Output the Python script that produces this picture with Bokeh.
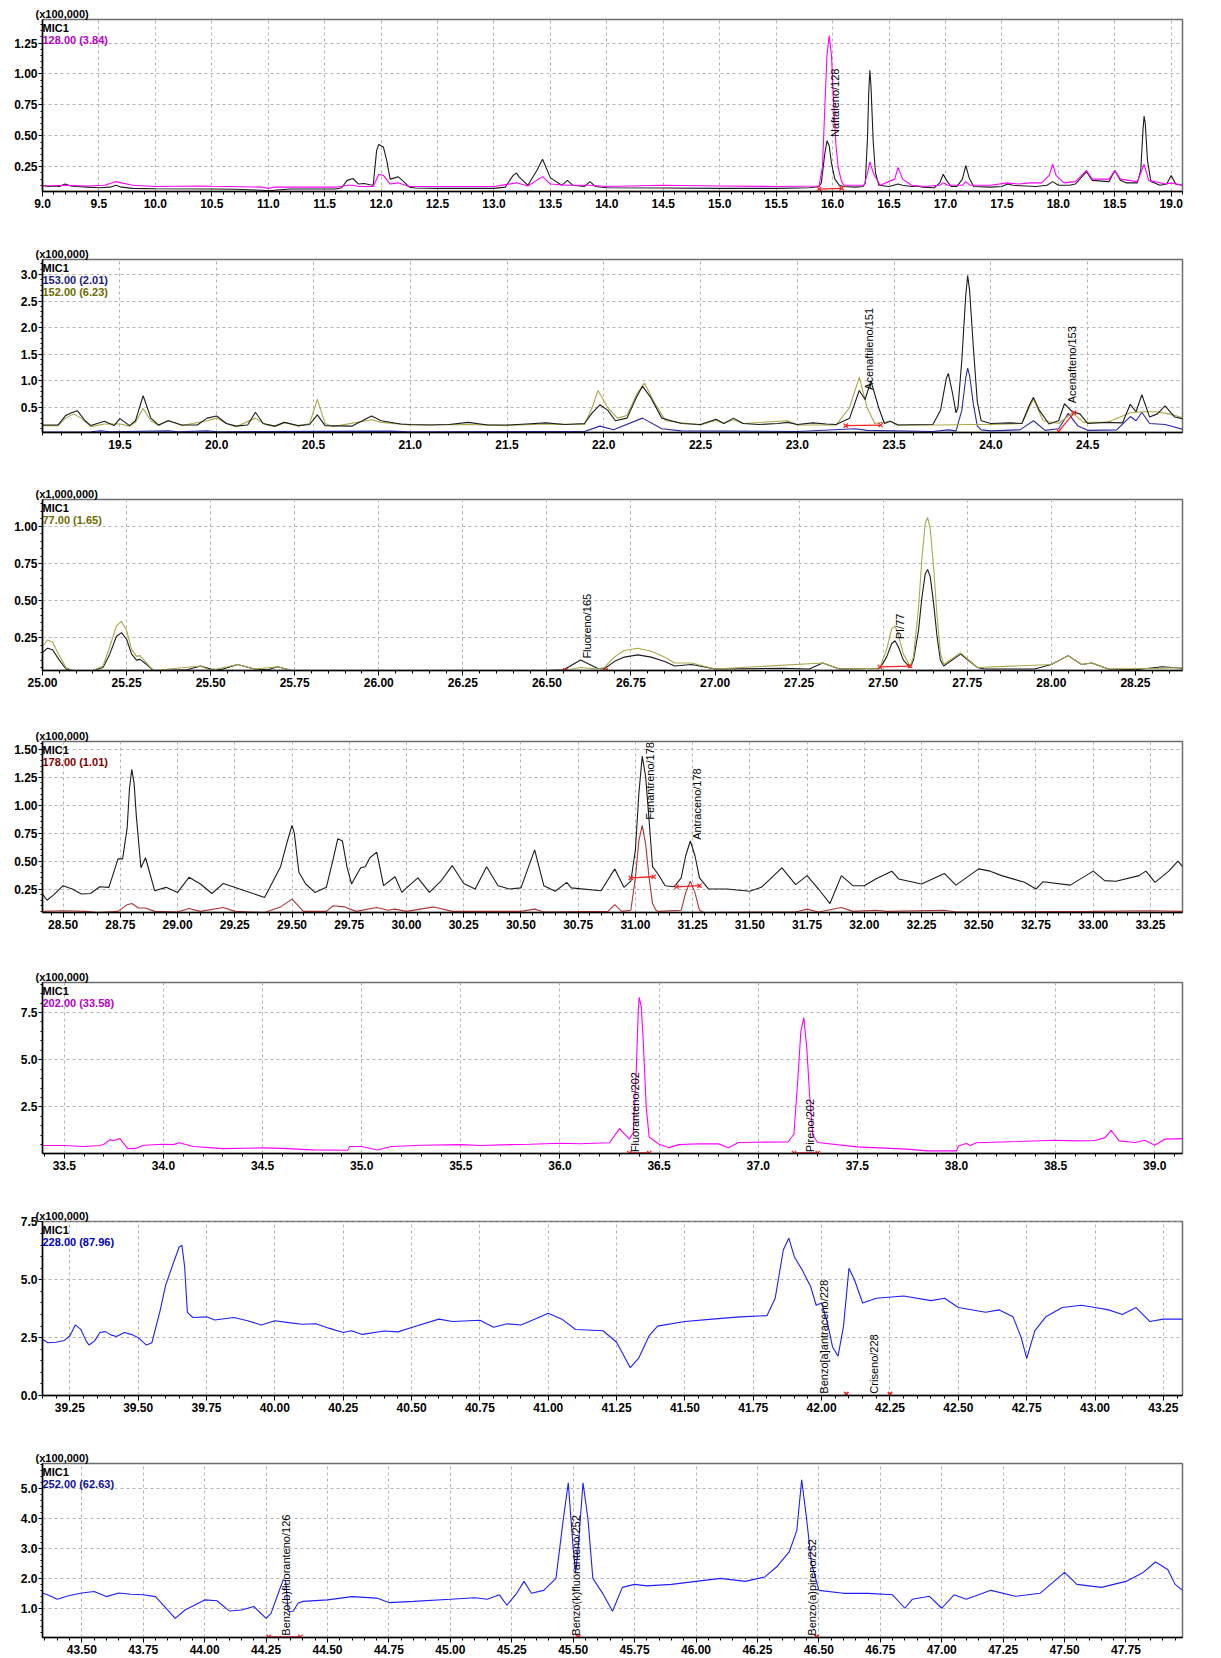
import math
from bokeh.plotting import figure
from bokeh.layouts import column
from bokeh.models import Range1d, SingleIntervalTicker, PrintfTickFormatter, Label, Title
from bokeh.core.properties import value
from bokeh.embed import file_html
from bokeh.resources import INLINE

FONT = "Liberation Sans"

# ---------------- Panel 1 (x100,000) ----------------
p1_tic_t = [9.0,9.05,9.1,9.15,9.2,9.25,9.3,9.4,9.5,9.6,9.65,9.7,9.8,10.0,10.5,10.7,10.95,11.0,11.05,11.2,11.6,11.65,11.7,11.75,11.8,11.85,11.9,11.93,11.96,11.98,12.02,12.05,12.08,12.12,12.15,12.2,12.25,12.3,12.5,13.0,13.1,13.17,13.2,13.22,13.3,13.38,13.43,13.5,13.6,13.65,13.7,13.8,13.85,13.9,14.0,14.5,15.0,15.5,15.8,15.88,15.9,15.93,15.95,15.97,15.99,16.02,16.06,16.1,16.2,16.27,16.29,16.31,16.32,16.33,16.34,16.36,16.38,16.41,16.5,16.58,16.62,16.7,16.75,16.8,16.9,16.95,16.98,17.01,17.05,17.1,17.15,17.18,17.21,17.25,17.4,17.5,17.55,17.6,17.8,17.9,17.95,18.0,18.1,18.15,18.2,18.25,18.3,18.45,18.5,18.55,18.6,18.7,18.73,18.75,18.76,18.77,18.79,18.82,18.9,18.96,19.0,19.04,19.1]
p1_tic_i = [0.10,0.09,0.095,0.09,0.11,0.095,0.09,0.085,0.08,0.085,0.10,0.085,0.075,0.072,0.07,0.068,0.06,0.055,0.06,0.07,0.07,0.08,0.14,0.155,0.11,0.115,0.105,0.10,0.38,0.43,0.41,0.30,0.15,0.16,0.17,0.13,0.085,0.078,0.075,0.075,0.085,0.18,0.20,0.17,0.10,0.22,0.31,0.16,0.10,0.14,0.10,0.09,0.13,0.09,0.08,0.078,0.075,0.075,0.08,0.09,0.12,0.35,0.46,0.42,0.28,0.15,0.10,0.09,0.085,0.09,0.12,0.50,0.85,1.03,0.90,0.45,0.20,0.10,0.09,0.11,0.10,0.09,0.095,0.085,0.08,0.12,0.19,0.14,0.09,0.09,0.15,0.26,0.16,0.09,0.085,0.09,0.11,0.10,0.09,0.10,0.13,0.10,0.10,0.11,0.16,0.21,0.14,0.13,0.22,0.14,0.12,0.12,0.22,0.55,0.66,0.60,0.30,0.13,0.10,0.11,0.18,0.11,0.10]
p1_m128_t = [9.0,9.2,9.4,9.55,9.62,9.65,9.7,9.8,10.0,10.4,10.5,10.95,11.0,11.05,11.6,11.7,11.75,11.8,11.93,11.98,12.02,12.08,12.15,12.25,13.0,13.2,13.3,13.43,13.5,13.65,13.85,14.0,14.5,15.0,15.5,15.88,15.91,15.93,15.95,15.97,15.99,16.01,16.03,16.05,16.08,16.1,16.28,16.31,16.33,16.36,16.42,16.55,16.58,16.62,16.7,16.8,16.95,16.98,17.02,17.15,17.18,17.22,17.4,17.55,17.65,17.75,17.85,17.92,17.95,17.98,18.05,18.15,18.25,18.3,18.45,18.5,18.55,18.7,18.76,18.8,18.95,19.0,19.1]
p1_m128_i = [0.095,0.10,0.095,0.10,0.12,0.13,0.12,0.10,0.09,0.095,0.092,0.085,0.075,0.085,0.085,0.10,0.10,0.09,0.09,0.19,0.18,0.11,0.12,0.09,0.09,0.12,0.095,0.17,0.11,0.10,0.10,0.09,0.10,0.095,0.09,0.095,0.25,0.70,1.15,1.31,1.15,0.75,0.42,0.24,0.13,0.10,0.10,0.20,0.29,0.20,0.10,0.15,0.245,0.15,0.10,0.09,0.10,0.12,0.10,0.10,0.13,0.10,0.10,0.12,0.11,0.12,0.12,0.18,0.27,0.18,0.12,0.13,0.22,0.15,0.15,0.22,0.15,0.13,0.27,0.14,0.11,0.12,0.10]

# ---------------- Panel 2 (x100,000) ----------------
p2_tic_t = [19.1,19.18,19.22,19.25,19.28,19.32,19.35,19.42,19.47,19.5,19.55,19.58,19.62,19.66,19.7,19.75,19.82,19.9,19.95,20.0,20.05,20.1,20.16,20.2,20.24,20.3,20.35,20.42,20.48,20.52,20.56,20.7,20.8,20.85,20.95,21.0,21.1,21.2,21.3,21.4,21.5,21.6,21.7,21.8,21.9,21.94,21.98,22.02,22.06,22.12,22.17,22.2,22.24,22.3,22.4,22.5,22.58,22.62,22.67,22.72,22.8,22.9,22.95,23.0,23.08,23.15,23.2,23.27,23.32,23.35,23.38,23.42,23.45,23.48,23.52,23.7,23.74,23.77,23.78,23.8,23.82,23.83,23.85,23.87,23.88,23.89,23.91,23.93,23.95,24.0,24.1,24.16,24.2,24.22,24.25,24.3,24.35,24.38,24.42,24.46,24.5,24.6,24.68,24.72,24.75,24.78,24.82,24.86,24.9,24.95,25.0]
p2_tic_i = [0.17,0.17,0.35,0.40,0.44,0.25,0.16,0.24,0.16,0.29,0.16,0.25,0.72,0.30,0.17,0.25,0.17,0.17,0.30,0.34,0.20,0.15,0.17,0.41,0.20,0.15,0.22,0.16,0.18,0.36,0.16,0.15,0.34,0.25,0.19,0.18,0.17,0.18,0.22,0.17,0.17,0.19,0.21,0.18,0.20,0.40,0.55,0.45,0.25,0.30,0.70,0.90,0.70,0.30,0.20,0.18,0.28,0.20,0.30,0.20,0.18,0.20,0.22,0.18,0.21,0.19,0.18,0.30,0.82,0.65,1.00,0.50,0.20,0.24,0.17,0.18,0.45,1.05,1.14,0.80,0.40,0.50,1.40,2.60,2.98,2.70,1.60,0.60,0.25,0.20,0.21,0.20,0.55,0.69,0.45,0.19,0.25,0.57,0.42,0.38,0.20,0.22,0.21,0.56,0.42,0.74,0.32,0.38,0.53,0.32,0.28]
p2_m152_t = [19.1,19.18,19.22,19.26,19.3,19.35,19.42,19.5,19.55,19.58,19.62,19.66,19.7,19.75,19.82,19.95,20.0,20.05,20.1,20.2,20.25,20.3,20.35,20.42,20.48,20.52,20.56,20.6,20.8,20.85,21.0,21.3,21.5,21.7,21.9,21.94,21.97,22.02,22.07,22.12,22.17,22.21,22.26,22.32,22.5,22.58,22.62,22.67,22.72,22.95,23.0,23.2,23.27,23.32,23.36,23.4,23.48,23.52,23.75,23.88,24.0,24.16,24.22,24.27,24.35,24.42,24.48,24.6,24.72,24.78,24.85,24.92,25.0]
p2_m152_i = [0.16,0.16,0.30,0.38,0.30,0.14,0.19,0.19,0.15,0.22,0.48,0.25,0.16,0.26,0.16,0.25,0.30,0.20,0.14,0.30,0.18,0.14,0.22,0.15,0.20,0.65,0.20,0.14,0.27,0.22,0.17,0.18,0.16,0.19,0.18,0.50,0.82,0.50,0.30,0.35,0.75,0.96,0.60,0.25,0.17,0.26,0.20,0.27,0.20,0.25,0.17,0.17,0.50,1.07,0.50,0.20,0.24,0.17,0.17,0.18,0.18,0.20,0.66,0.25,0.20,0.40,0.22,0.22,0.40,0.42,0.42,0.38,0.30]
p2_m153_t = [19.1,19.35,19.4,19.45,19.75,19.8,19.95,20.0,20.9,21.0,21.9,21.98,22.05,22.2,22.3,22.4,23.0,23.3,23.36,23.7,23.78,23.82,23.85,23.87,23.88,23.89,23.91,23.93,23.95,24.0,24.15,24.22,24.28,24.35,24.4,24.45,24.5,24.65,24.72,24.75,24.78,24.82,24.9,25.0]
p2_m153_i = [0.04,0.045,0.06,0.045,0.06,0.045,0.06,0.045,0.055,0.045,0.05,0.15,0.08,0.30,0.10,0.06,0.05,0.10,0.07,0.05,0.08,0.06,0.45,1.05,1.24,1.10,0.55,0.15,0.08,0.06,0.08,0.25,0.07,0.10,0.39,0.15,0.07,0.08,0.33,0.25,0.41,0.20,0.18,0.08]

# ---------------- Panel 3 (x1,000,000) ----------------
p3_tic_t = [25.0,25.015,25.03,25.05,25.07,25.09,25.15,25.18,25.2,25.22,25.235,25.25,25.265,25.28,25.29,25.31,25.33,25.43,25.47,25.5,25.53,25.58,25.63,25.67,25.7,25.74,26.5,26.55,26.6,26.65,26.67,26.7,26.73,26.77,26.81,26.85,26.88,26.93,27.0,27.2,27.28,27.32,27.37,27.49,27.51,27.525,27.535,27.545,27.56,27.58,27.59,27.605,27.615,27.625,27.632,27.64,27.65,27.66,27.67,27.68,27.73,27.78,27.8,27.95,28.0,28.05,28.09,28.12,28.17,28.25,28.33,28.39]
p3_tic_i = [0.15,0.18,0.17,0.10,0.04,0.03,0.03,0.05,0.14,0.26,0.285,0.24,0.14,0.10,0.105,0.07,0.03,0.035,0.06,0.04,0.035,0.07,0.04,0.035,0.055,0.03,0.03,0.035,0.10,0.045,0.04,0.09,0.12,0.135,0.12,0.09,0.06,0.07,0.04,0.045,0.04,0.08,0.04,0.045,0.12,0.21,0.23,0.19,0.10,0.05,0.10,0.30,0.52,0.68,0.71,0.66,0.48,0.26,0.10,0.06,0.14,0.05,0.04,0.04,0.07,0.13,0.07,0.08,0.04,0.035,0.055,0.045]
p3_m77_t = [25.0,25.015,25.03,25.05,25.07,25.09,25.15,25.18,25.2,25.22,25.235,25.25,25.265,25.28,25.29,25.31,25.33,25.47,25.5,25.58,25.63,25.7,25.74,26.55,26.6,26.65,26.67,26.7,26.73,26.77,26.81,26.85,26.88,26.93,27.0,27.32,27.37,27.49,27.51,27.525,27.535,27.545,27.56,27.58,27.59,27.605,27.615,27.625,27.632,27.64,27.65,27.66,27.67,27.68,27.73,27.78,28.0,28.05,28.09,28.12,28.17,28.33,28.39]
p3_m77_i = [0.19,0.235,0.22,0.13,0.05,0.03,0.03,0.06,0.19,0.33,0.36,0.30,0.17,0.125,0.13,0.08,0.03,0.06,0.03,0.07,0.04,0.055,0.03,0.03,0.05,0.04,0.05,0.12,0.165,0.18,0.16,0.12,0.08,0.08,0.04,0.08,0.04,0.045,0.17,0.31,0.33,0.27,0.14,0.06,0.12,0.45,0.78,1.02,1.06,0.98,0.72,0.40,0.15,0.07,0.15,0.05,0.07,0.13,0.07,0.08,0.04,0.045,0.05]

# ---------------- Panel 4 (x100,000) ----------------
p4_tic_t = [28.41,28.43,28.46,28.5,28.54,28.58,28.62,28.66,28.7,28.74,28.76,28.78,28.79,28.8,28.81,28.82,28.84,28.86,28.9,28.95,29.0,29.05,29.1,29.15,29.2,29.3,29.38,29.45,29.48,29.5,29.51,29.53,29.56,29.6,29.65,29.68,29.7,29.72,29.74,29.76,29.8,29.82,29.84,29.87,29.9,29.95,29.98,30.0,30.05,30.1,30.15,30.2,30.25,30.3,30.35,30.4,30.45,30.5,30.56,30.6,30.65,30.7,30.72,30.85,30.91,30.95,30.98,31.0,31.015,31.03,31.045,31.06,31.075,31.1,31.13,31.17,31.2,31.22,31.24,31.26,31.28,31.32,31.4,31.5,31.55,31.64,31.7,31.75,31.8,31.85,31.9,31.95,32.0,32.05,32.12,32.15,32.25,32.35,32.4,32.5,32.55,32.6,32.7,32.75,32.78,32.9,33.0,33.05,33.1,33.2,33.23,33.27,33.33,33.37,33.39]
p4_tic_i = [0.205,0.15,0.20,0.28,0.25,0.205,0.21,0.27,0.265,0.52,0.52,0.80,1.15,1.32,1.20,0.90,0.44,0.53,0.235,0.265,0.22,0.355,0.295,0.21,0.30,0.23,0.175,0.45,0.68,0.82,0.75,0.40,0.295,0.22,0.265,0.52,0.70,0.68,0.45,0.295,0.44,0.45,0.53,0.58,0.28,0.36,0.22,0.26,0.35,0.22,0.32,0.46,0.30,0.25,0.45,0.28,0.25,0.26,0.60,0.28,0.23,0.31,0.26,0.235,0.43,0.265,0.32,0.60,1.10,1.44,1.25,0.86,0.45,0.38,0.28,0.27,0.35,0.55,0.68,0.55,0.35,0.25,0.25,0.23,0.265,0.44,0.29,0.37,0.25,0.12,0.37,0.28,0.28,0.34,0.41,0.34,0.295,0.39,0.285,0.43,0.41,0.37,0.31,0.25,0.315,0.285,0.41,0.325,0.32,0.37,0.41,0.31,0.41,0.50,0.45]
p4_m178_t = [28.41,28.5,28.6,28.65,28.74,28.78,28.8,28.83,28.86,28.9,29.0,29.05,29.1,29.2,29.25,29.38,29.45,29.5,29.55,29.65,29.68,29.73,29.78,29.87,29.92,29.95,30.0,30.12,30.2,30.5,30.56,30.6,30.88,30.91,30.94,30.98,31.0,31.015,31.03,31.045,31.06,31.075,31.09,31.1,31.2,31.22,31.24,31.26,31.28,31.3,31.7,31.75,31.8,31.9,31.95,32.05,32.1,32.35,32.4,33.0,33.25,33.39]
p4_m178_i = [0.05,0.055,0.05,0.04,0.05,0.11,0.12,0.08,0.08,0.05,0.045,0.075,0.05,0.085,0.05,0.04,0.09,0.16,0.05,0.05,0.10,0.09,0.05,0.085,0.06,0.07,0.05,0.09,0.05,0.05,0.07,0.045,0.05,0.11,0.05,0.06,0.35,0.68,0.82,0.65,0.35,0.12,0.06,0.05,0.06,0.22,0.32,0.22,0.06,0.04,0.045,0.07,0.045,0.085,0.05,0.06,0.05,0.06,0.045,0.05,0.055,0.05]

# ---------------- Panel 5 (x100,000) ----------------
p5_m202_t = [33.39,33.5,33.6,33.68,33.7,33.73,33.75,33.78,33.82,33.86,33.9,34.0,34.05,34.08,34.15,34.3,34.5,34.6,34.75,34.93,34.94,35.0,35.08,35.15,35.3,35.5,35.6,35.75,35.85,36.0,36.1,36.25,36.3,36.35,36.37,36.385,36.395,36.4,36.41,36.42,36.435,36.45,36.5,36.55,36.6,36.7,36.8,36.85,36.9,37.0,37.15,37.18,37.2,37.215,37.23,37.245,37.26,37.275,37.3,37.5,37.75,37.85,38.0,38.01,38.05,38.07,38.1,38.5,38.6,38.7,38.75,38.78,38.82,38.9,38.95,39.0,39.05,39.14]
p5_m202_i = [0.45,0.45,0.40,0.45,0.52,0.75,0.72,0.82,0.29,0.30,0.47,0.52,0.50,0.60,0.40,0.29,0.33,0.30,0.22,0.20,0.40,0.40,0.22,0.40,0.47,0.50,0.45,0.50,0.52,0.57,0.55,0.60,1.35,0.79,1.14,4.5,7.6,8.3,7.8,6.0,2.5,0.9,0.52,0.34,0.50,0.55,0.54,0.34,0.61,0.63,0.64,1.05,4.0,6.5,7.23,5.6,3.0,1.0,0.61,0.38,0.26,0.17,0.17,0.43,0.56,0.45,0.60,0.73,0.70,0.72,0.87,1.26,0.70,0.61,0.73,0.47,0.79,0.82]

# ---------------- Panel 6 (x100,000) ----------------
p6_m228_t = [39.15,39.17,39.2,39.23,39.25,39.27,39.29,39.31,39.32,39.34,39.36,39.38,39.4,39.42,39.45,39.48,39.5,39.53,39.55,39.58,39.6,39.63,39.65,39.66,39.67,39.68,39.7,39.75,39.78,39.85,39.9,39.95,40.0,40.05,40.1,40.15,40.2,40.25,40.28,40.32,40.4,40.45,40.5,40.6,40.65,40.75,40.8,40.85,40.9,40.95,41.0,41.05,41.1,41.2,41.25,41.3,41.33,41.37,41.4,41.5,41.6,41.7,41.8,41.83,41.86,41.88,41.9,41.93,41.96,41.98,42.0,42.02,42.04,42.06,42.08,42.1,42.12,42.15,42.2,42.3,42.4,42.45,42.5,42.6,42.65,42.7,42.73,42.75,42.78,42.82,42.88,42.95,43.0,43.05,43.1,43.15,43.2,43.25,43.32]
p6_m228_i = [2.43,2.28,2.30,2.38,2.57,3.05,2.86,2.35,2.18,2.35,2.72,2.76,2.62,2.55,2.72,2.62,2.50,2.18,2.28,3.66,4.75,5.77,6.42,6.50,5.55,3.59,3.37,3.40,3.26,3.37,3.23,3.05,3.23,3.15,3.08,3.10,2.90,2.72,2.80,2.64,2.79,2.75,2.94,3.30,3.20,3.25,2.95,3.10,3.05,3.30,3.55,3.30,2.85,2.80,2.30,1.20,1.60,2.60,3.00,3.20,3.30,3.40,3.45,4.20,6.30,6.80,6.00,5.40,4.70,3.90,4.00,3.20,2.10,1.70,3.00,5.50,5.00,4.00,4.20,4.30,4.10,4.20,3.80,3.60,3.70,3.40,2.50,1.60,2.80,3.40,3.80,3.90,3.80,3.70,3.50,3.80,3.20,3.30,3.30]

# ---------------- Panel 7 (x100,000) ----------------
p7_m252_t = [43.34,43.36,43.4,43.45,43.5,43.55,43.6,43.65,43.7,43.75,43.8,43.85,43.88,43.92,43.96,44.0,44.05,44.1,44.15,44.2,44.25,44.27,44.3,44.32,44.33,44.34,44.36,44.38,44.4,44.5,44.6,44.7,44.75,44.85,45.0,45.1,45.15,45.2,45.23,45.27,45.3,45.33,45.38,45.43,45.46,45.48,45.5,45.51,45.52,45.54,45.56,45.58,45.62,45.66,45.7,45.75,45.8,45.9,46.0,46.1,46.2,46.28,46.33,46.38,46.41,46.43,46.45,46.47,46.5,46.6,46.7,46.8,46.85,46.88,46.95,47.0,47.05,47.1,47.2,47.3,47.4,47.5,47.55,47.65,47.75,47.82,47.87,47.92,47.95,47.98]
p7_m252_i = [1.51,1.45,1.30,1.43,1.51,1.56,1.39,1.51,1.47,1.45,1.39,0.94,0.66,0.94,1.11,1.28,1.25,0.91,0.94,1.06,0.66,0.83,1.51,1.96,1.90,0.89,0.90,1.17,1.23,1.28,1.39,1.34,1.19,1.23,1.30,1.35,1.30,1.45,1.10,1.50,1.90,1.50,1.60,2.00,4.00,5.20,3.00,2.20,3.00,5.20,4.00,2.00,1.50,0.90,1.70,1.80,1.75,1.80,1.90,2.00,1.90,2.05,2.40,2.90,3.60,5.30,4.00,2.50,1.60,1.50,1.50,1.45,1.00,1.30,1.40,1.00,1.45,1.30,1.60,1.40,1.50,2.20,1.80,1.70,1.90,2.20,2.55,2.30,1.80,1.60]

# ---------------- peak annotations ----------------
p1_peak_names = ["Naftaleno/128"]
p1_peak_t = [16.02]
p1_peak_i = [0.49]
p2_peak_names = ["Acenaftileno/151", "Acenafteno/153"]
p2_peak_t = [23.37, 24.42]
p2_peak_i = [0.83, 0.58]
p3_peak_names = ["Fluoreno/165", "PI/77"]
p3_peak_t = [26.62, 27.55]
p3_peak_i = [0.11, 0.24]
p4_peak_names = ["Fenantreno/178", "Antraceno/178"]
p4_peak_t = [31.065, 31.27]
p4_peak_i = [0.87, 0.69]
p5_peak_names = ["Fluoranteno/202", "Pireno/202"]
p5_peak_t = [36.38, 37.26]
p5_peak_i = [0.1, 0.1]
p6_peak_names = ["Benzo[a]antraceno/228", "Criseno/228"]
p6_peak_t = [42.01, 42.19]
p6_peak_i = [0.08, 0.08]
p7_peak_names = ["Benzo(b)fluoranteno/126", "Benzo(k)fluoranteno/252", "Benzo(a)pireno/252"]
p7_peak_t = [44.33, 45.51, 46.47]
p7_peak_i = [0.08, 0.08, 0.08]

# integration baselines (start t, start i, end t, end i)
p1_int = [(15.88, 0.07, 16.08, 0.075)]
p2_int = [(23.25, 0.16, 23.43, 0.17), (24.35, 0.05, 24.43, 0.40)]
p3_int = [(27.49, 0.055, 27.58, 0.06), (26.555, 0.03, 26.555, 0.03), (26.675, 0.03, 26.675, 0.03)]
p4_int = [(30.98, 0.35, 31.08, 0.36), (31.18, 0.27, 31.28, 0.28)]
p5_int = [(36.35, 0.06, 36.45, 0.06), (37.18, 0.06, 37.30, 0.06)]
p6_int = [(42.09, 0.06, 42.09, 0.06), (42.25, 0.06, 42.25, 0.06)]
p7_int = [(44.26, 0.04, 44.39, 0.04), (45.52, 0.04, 45.52, 0.04), (46.49, 0.04, 46.49, 0.04)]

BLACK = "#1c1c1c"
MAGENTA = "#ff00ff"
OLIVE = "#a9a94a"
NAVY = "#2a2aa8"
DARKRED = "#b03434"
BLUE = "#1f1fff"

panels = [
    dict(xr=(9.0, 19.1), yr=(0.05, 1.44), xi=0.5, yi=0.25, xf="%.1f", yf="%.2f", scale="(x100,000)",
         ions=[("128.00 (3.84)", "#b800c8")],
         traces=[(p1_tic_t, p1_tic_i, BLACK), (p1_m128_t, p1_m128_i, MAGENTA)],
         peaks=(p1_peak_names, p1_peak_t, p1_peak_i), integ=p1_int, fh=240, frh=172, right=1182),
    dict(xr=(19.1, 24.99), yr=(0.03, 3.28), xi=0.5, yi=0.5, xf="%.1f", yf="%.1f", scale="(x100,000)",
         ions=[("153.00 (2.01)", "#1a1a80"), ("152.00 (6.23)", "#6c6c00")],
         traces=[(p2_m153_t, p2_m153_i, NAVY), (p2_m152_t, p2_m152_i, OLIVE), (p2_tic_t, p2_tic_i, BLACK)],
         peaks=(p2_peak_names, p2_peak_t, p2_peak_i), integ=p2_int, fh=240, frh=173, right=1182),
    dict(xr=(25.0, 28.39), yr=(0.03, 1.18), xi=0.25, yi=0.25, xf="%.2f", yf="%.2f", scale="(x1,000,000)",
         ions=[("77.00 (1.65)", "#6c6c00")],
         traces=[(p3_tic_t, p3_tic_i, BLACK), (p3_m77_t, p3_m77_i, OLIVE)],
         peaks=(p3_peak_names, p3_peak_t, p3_peak_i), integ=p3_int, fh=242, frh=171, right=1198),
    dict(xr=(28.41, 33.39), yr=(0.04, 1.57), xi=0.25, yi=0.25, xf="%.2f", yf="%.2f", scale="(x100,000)",
         ions=[("178.00 (1.01)", "#800000")],
         traces=[(p4_tic_t, p4_tic_i, BLACK), (p4_m178_t, p4_m178_i, DARKRED)],
         peaks=(p4_peak_names, p4_peak_t, p4_peak_i), integ=p4_int, fh=241, frh=171, right=1189),
    dict(xr=(33.39, 39.14), yr=(0.03, 9.09), xi=0.5, yi=2.5, xf="%.1f", yf="%.1f", scale="(x100,000)",
         ions=[("202.00 (33.58)", "#b800c8")],
         traces=[(p5_m202_t, p5_m202_i, MAGENTA)],
         peaks=(p5_peak_names, p5_peak_t, p5_peak_i), integ=p5_int, fh=239, frh=171, right=1189),
    dict(xr=(39.15, 43.32), yr=(0.0, 7.52), xi=0.25, yi=2.5, xf="%.2f", yf="%.1f", scale="(x100,000)",
         ions=[("228.00 (87.96)", "#0000c8")],
         traces=[(p6_m228_t, p6_m228_i, BLUE)],
         peaks=(p6_peak_names, p6_peak_t, p6_peak_i), integ=p6_int, fh=242, frh=174, right=1198),
    dict(xr=(43.34, 47.98), yr=(0.02, 5.85), xi=0.25, yi=1.0, xf="%.2f", yf="%.1f", scale="(x100,000)",
         ions=[("252.00 (62.63)", "#10109a")],
         traces=[(p7_m252_t, p7_m252_i, BLUE)],
         peaks=(p7_peak_names, p7_peak_t, p7_peak_i), integ=p7_int, fh=214, frh=174, right=1218),
]

figs = []
for cfg in panels:
    fh, frh = cfg["fh"], cfg["frh"]
    p = figure(width=1221, height=fh, x_range=Range1d(*cfg["xr"]), y_range=Range1d(*cfg["yr"]),
               output_backend="svg", toolbar_location=None,
               min_border_left=42, min_border_right=1221 - cfg["right"],
               min_border_top=19, min_border_bottom=fh - 19 - frh)
    p.title = Title(text=cfg["scale"], align="left", offset=-7, standoff=0,
                    text_font=FONT, text_font_style="bold", text_font_size="11px", text_color="black")
    p.title_location = "above"
    p.background_fill_color = "white"
    p.border_fill_color = "white"
    p.outline_line_color = "#6e6e6e"
    p.outline_line_width = 1.5

    xt = SingleIntervalTicker(interval=cfg["xi"], num_minor_ticks=5)
    yt = SingleIntervalTicker(interval=cfg["yi"], num_minor_ticks=5)
    p.xaxis.ticker = xt
    p.yaxis.ticker = yt
    p.xgrid.ticker = xt
    p.ygrid.ticker = yt
    p.xaxis.formatter = PrintfTickFormatter(format=cfg["xf"])
    p.yaxis.formatter = PrintfTickFormatter(format=cfg["yf"])
    for ax in (p.xaxis, p.yaxis):
        ax.axis_line_color = "black"
        ax.axis_line_width = 1.5
        ax.major_tick_line_color = "black"
        ax.minor_tick_line_color = "black"
        ax.major_tick_in = 0
        ax.minor_tick_in = 0
        ax.major_label_text_font = FONT
        ax.major_label_text_font_style = "bold"
        ax.major_label_text_font_size = "12px"
        ax.major_label_text_color = "black"
    p.xaxis.major_tick_out = 5
    p.xaxis.minor_tick_out = 3
    p.xaxis.major_label_standoff = 2
    p.yaxis.major_tick_out = 4
    p.yaxis.minor_tick_out = 2
    p.yaxis.major_label_standoff = 1
    for g in (p.xgrid, p.ygrid):
        g.grid_line_color = "#b4b4b4"
        g.grid_line_dash = "3 3"
        g.grid_line_width = 1

    for t, i, c in cfg["traces"]:
        p.line(t, i, line_color=c, line_width=1.1)

    segs = cfg["integ"]
    x0 = [s[0] for s in segs]; y0 = [s[1] for s in segs]
    x1 = [s[2] for s in segs]; y1 = [s[3] for s in segs]
    p.segment(x0=x0, y0=y0, x1=x1, y1=y1, line_color="#ff2020", line_width=1.3)
    p.scatter(x0 + x1, y0 + y1, marker="x", size=6, line_color="#ff2020", line_width=1.2)

    names, pt, pi_ = cfg["peaks"]
    p.text(x=pt, y=pi_, text=names, angle=math.pi / 2, text_align="left", text_baseline="middle",
           text_font=value(FONT), text_font_size="11px", text_color="black")

    xmin, ymax = cfg["xr"][0], cfg["yr"][1]
    p.add_layout(Label(x=xmin, y=ymax, x_offset=0, y_offset=-2, text="MIC1",
                       text_font=FONT, text_font_style="bold", text_font_size="11px",
                       text_baseline="top", text_align="left", text_color="black"))
    for k, (txt, col) in enumerate(cfg["ions"]):
        p.add_layout(Label(x=xmin, y=ymax, x_offset=0, y_offset=-14 - 12 * k, text=txt,
                           text_font=FONT, text_font_style="bold", text_font_size="11px",
                           text_baseline="top", text_align="left", text_color=col))
    figs.append(p)

layout = column(*figs, spacing=0)
open("out.html", "w").write(file_html(layout, INLINE))
